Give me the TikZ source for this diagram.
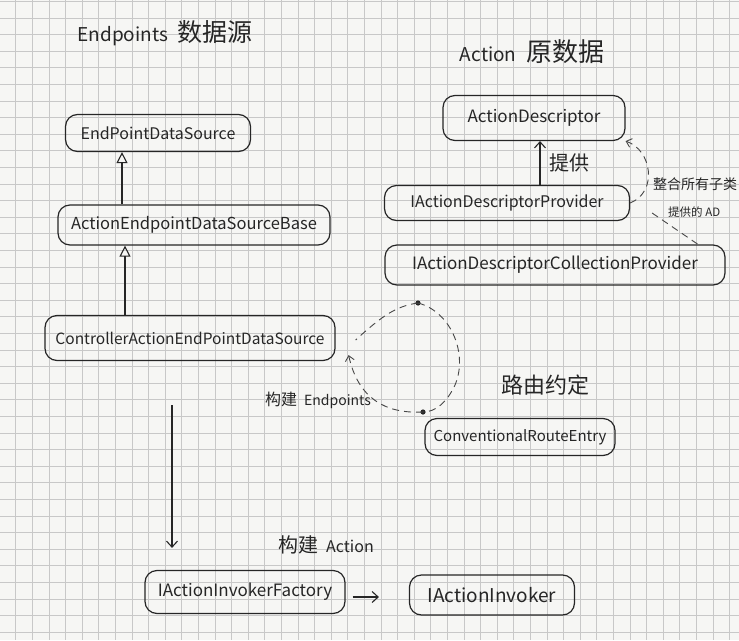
\documentclass[tikz,border=0pt]{standalone}
\usepackage{fontspec}
\setmainfont{Noto Sans CJK SC}
\usepackage{tikz}
\usetikzlibrary{calc}
\usetikzlibrary{arrows,arrows.meta,shapes, positioning}
\tikzset{>=stealth}
\definecolor{paper}{HTML}{F6F6F4}
\definecolor{gridline}{HTML}{C8C8C8}
\definecolor{ink}{HTML}{262626}
\tikzset{
  sketchbox/.style={draw=ink, line width=1.2pt, rounded corners=12pt, inner sep=0pt,
    text=ink, font=\fontsize{16}{18}\selectfont},
  note/.style={text=ink, inner sep=0pt, font=\fontsize{16}{18}\selectfont},
  inherit/.style={-{Triangle[open, length=11pt, width=11pt]}, draw=ink, line width=1.1pt},
  solidlink/.style={-{Straight Barb[length=6pt, width=11pt]}, draw=ink, line width=1.1pt},
  dashlink/.style={draw=ink!85, line width=0.9pt, dash pattern=on 7pt off 5pt},
}

\begin{document}
\begin{tikzpicture}[x=1pt, y=-1pt]
      % paper
      \fill[paper] (0,0) rectangle (739,640);
      \useasboundingbox (0,0) rectangle (739,640);
      \foreach \i in {0,...,45}
        \draw[gridline, line width=0.5pt] (-1+16.6*\i, 0) -- (-1+16.6*\i, 640);
      \foreach \j in {0,...,39}
        \draw[gridline, line width=0.5pt] (0, 1.2+16.6*\j) -- (739, 1.2+16.6*\j);

      % titles
      \node (epTitle) at (165, 33) [note, font=\fontsize{19}{21}\selectfont] {Endpoints\enspace{\fontsize{25}{27}\selectfont 数据源}};
      \node (adTitle) at (532, 52) [note, font=\fontsize{19}{21}\selectfont] {Action\enspace{\fontsize{26}{28}\selectfont 原数据}};

      % endpoint data sources
      \node (eds) at (158, 133) [sketchbox, minimum width=185pt, minimum height=37pt] {EndPointDataSource};
      \node (base) at (194, 225) [sketchbox, minimum width=272pt, minimum height=40pt, font=\fontsize{16.5}{18}\selectfont] {ActionEndpointDataSourceBase};
      \node (ctrl) at (190, 338) [sketchbox, minimum width=290pt, minimum height=45pt,
        font=\fontsize{15.5}{17}\selectfont] {ControllerActionEndPointDataSource};

      \draw[inherit] ([xshift=-36pt]eds.south |- base.north) -- ([xshift=-36pt]eds.south);
      \draw[inherit] ([xshift=-69pt]base.south |- ctrl.north) -- ([xshift=-69pt]base.south);

      % action descriptors
      \node (ad) at (534, 118) [sketchbox, minimum width=182pt, minimum height=45pt, font=\fontsize{17}{19}\selectfont] {ActionDescriptor};
      \node (adp) at (507, 203) [sketchbox, minimum width=245pt, minimum height=35pt] {IActionDescriptorProvider};
      \node (adcp) at (555, 265) [sketchbox, minimum width=340pt, minimum height=40pt,
        font=\fontsize{17}{19}\selectfont] {IActionDescriptorCollectionProvider};

      \draw[solidlink] ([xshift=6pt]ad.south |- adp.north) -- ([xshift=6pt]ad.south)
        node [midway, right=9pt, note, font=\fontsize{20}{22}\selectfont] {提供};
      \draw[dashlink, -{Straight Barb[length=5pt, width=9pt]}] (adp.east) .. controls (658, 192) and (652, 150) .. (ad.south east);
      \draw[dashlink] ([shift={(22pt,-10pt)}]adp.east) -- ([xshift=143pt]adcp.north);
      \node (merge1) at (653, 184) [note, anchor=west, font=\fontsize{14}{16}\selectfont] {整合所有子类};
      \node (merge2) at (668, 212) [note, anchor=west, font=\fontsize{11.5}{13}\selectfont] {提供的 AD};

      % route convention loop
      \node (cre) at (520, 437) [sketchbox, minimum width=190pt, minimum height=37pt,
        font=\fontsize{15}{17}\selectfont] {ConventionalRouteEntry};
      \node (route) at (545, 385) [note, font=\fontsize{22}{24}\selectfont] {路由约定};
      \coordinate (loopTop) at (418, 303);
      \coordinate (loopBot) at (423, 412);
      \fill[ink] (loopTop) circle (2.6);
      \fill[ink] (loopBot) circle (2.6);
      \draw[dashlink] (loopTop) .. controls (452, 312) and (468, 355) .. (455, 385)
        .. controls (447, 402) and (436, 412) .. (loopBot);
      \draw[dashlink, -{Straight Barb[length=5pt, width=9pt]}] (loopBot) .. controls (385, 414) and (358, 398) .. ([xshift=13pt, yshift=6pt]ctrl.south east);
      \draw[dashlink] (loopTop) .. controls (396, 306) and (382, 316) .. ([xshift=20pt, yshift=-2pt]ctrl.east);
      \node (buildEp) at (318, 400) [note, font=\fontsize{14}{16}\selectfont] {{\fontsize{16}{18}\selectfont 构建}\enspace Endpoints};

      % invokers
      \node (aif) at (245, 592) [sketchbox, minimum width=200pt, minimum height=43pt, font=\fontsize{17}{19}\selectfont] {IActionInvokerFactory};
      \node (ai) at (492, 595) [sketchbox, minimum width=165pt, minimum height=40pt, font=\fontsize{19}{21}\selectfont] {IActionInvoker};
      \node (buildAct) at (326, 545) [note, font=\fontsize{16}{18}\selectfont] {{\fontsize{20}{22}\selectfont 构建}\enspace Action};

      \draw[solidlink, shorten <=44pt, shorten >=22pt] ([xshift=-18pt]ctrl.south) -- ([xshift=-18pt]ctrl.south |- aif.north);
      \draw[solidlink, shorten <=7pt, shorten >=30pt] ([yshift=-5pt]aif.east) -- ([yshift=-5pt]aif.east -| ai.west);
    \end{tikzpicture}
\end{document}
